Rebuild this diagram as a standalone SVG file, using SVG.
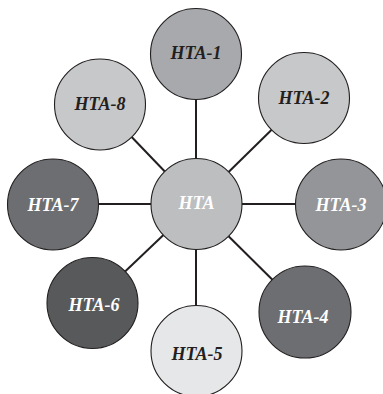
<svg xmlns="http://www.w3.org/2000/svg" width="383" height="394" viewBox="0 0 383 394">
<style>
.c{stroke:#231f20;stroke-width:1.1}
.t{font-family:"Liberation Serif","Times New Roman",serif;font-weight:bold;font-style:italic;font-size:18px;text-anchor:middle}
.d{fill:#231f20}
.w{fill:#ffffff}
#edges line{stroke:#231f20;stroke-width:2}
</style>
<rect width="383" height="394" fill="#ffffff"/>
<g id="edges">
<line x1="196" y1="204" x2="196" y2="54"/>
<line x1="196" y1="204" x2="304" y2="98"/>
<line x1="196" y1="204" x2="341" y2="204"/>
<line x1="196" y1="204" x2="305" y2="312"/>
<line x1="196" y1="204" x2="196" y2="351"/>
<line x1="196" y1="204" x2="92" y2="303"/>
<line x1="196" y1="204" x2="53" y2="204"/>
<line x1="196" y1="204" x2="100" y2="104"/>
</g>
<g id="hta"><circle class="c" cx="196.5" cy="204" r="45.5" fill="#bcbec0"/><text class="t w" x="196.5" y="209">HTA</text></g>
<g id="hta1"><circle class="c" cx="196" cy="54" r="45.5" fill="#a7a9ac"/><text class="t d" x="196" y="59">HTA-1</text></g>
<g id="hta2"><circle class="c" cx="304" cy="98" r="45.5" fill="#c7c8ca"/><text class="t d" x="304" y="104">HTA-2</text></g>
<g id="hta3"><circle class="c" cx="341" cy="204.5" r="45.5" fill="#939598"/><text class="t w" x="341" y="211">HTA-3</text></g>
<g id="hta4"><circle class="c" cx="305" cy="312" r="46" fill="#6d6e71"/><text class="t w" x="303" y="323">HTA-4</text></g>
<g id="hta5"><circle class="c" cx="196.5" cy="351" r="45.5" fill="#e6e7e8"/><text class="t d" x="197" y="360">HTA-5</text></g>
<g id="hta6"><circle class="c" cx="92.5" cy="303" r="45.5" fill="#58595b"/><text class="t w" x="94" y="311">HTA-6</text></g>
<g id="hta7"><circle class="c" cx="53" cy="204.5" r="45.5" fill="#6d6e71"/><text class="t w" x="53" y="211">HTA-7</text></g>
<g id="hta8"><circle class="c" cx="100" cy="104.5" r="45.5" fill="#c7c8ca"/><text class="t d" x="100" y="110">HTA-8</text></g>
</svg>
